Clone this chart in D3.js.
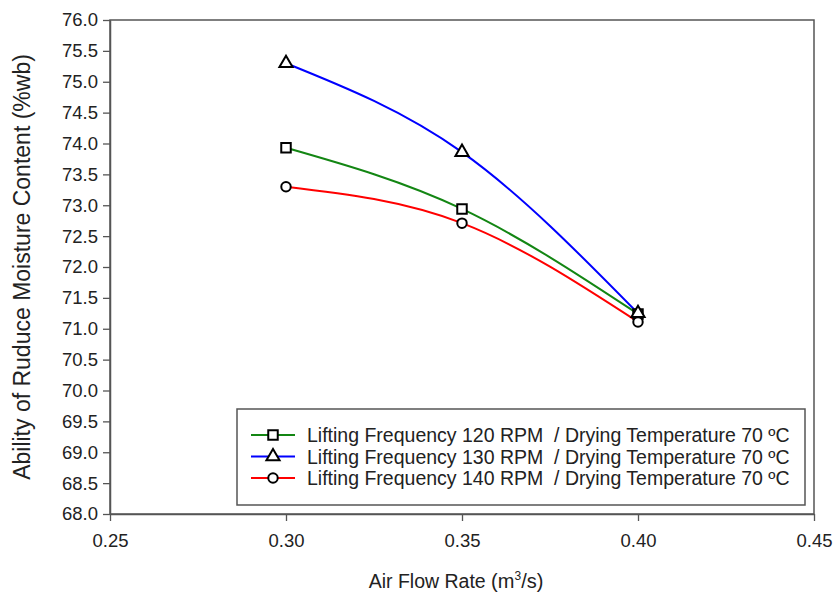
<!DOCTYPE html>
<html>
<head>
<meta charset="utf-8">
<script src="https://cdn.jsdelivr.net/npm/d3@7"></script>
<style>
  body { margin: 0; background: #fff; }
  text { font-family: Arial, "Liberation Sans", sans-serif; fill: #222; }
</style>
</head>
<body>
<svg id="chart" width="836" height="595"></svg>
<script>
// air flow rate (m3/s)
let airFlow = [0.30, 0.35, 0.40];
let rpm120 = [73.93, 72.94, 71.24];
let rpm130 = [75.30, 73.86, 71.25];
let rpm140 = [73.30, 72.71, 71.11];
let seriesNames = [
  "Lifting Frequency 120 RPM  / Drying Temperature 70 ºC",
  "Lifting Frequency 130 RPM  / Drying Temperature 70 ºC",
  "Lifting Frequency 140 RPM  / Drying Temperature 70 ºC"
];
let xTicks = [0.25, 0.30, 0.35, 0.40, 0.45];
let yTicks = d3.range(68, 76.01, 0.5);

let series = [
  { name: seriesNames[0], values: rpm120, color: "#138613", symbol: d3.symbolSquare },
  { name: seriesNames[1], values: rpm130, color: "#0000ff", symbol: d3.symbolTriangle },
  { name: seriesNames[2], values: rpm140, color: "#ff0000", symbol: d3.symbolCircle }
];

let svg = d3.select("#chart");
let plotLeft = 110, plotRight = 814, plotTop = 20, plotBottom = 514;

let x = d3.scaleLinear().domain([0.25, 0.45]).range([plotLeft, plotRight]);
let y = d3.scaleLinear().domain([68, 76]).range([plotBottom, plotTop]);

// frame
svg.append("rect")
  .attr("x", plotLeft).attr("y", plotTop)
  .attr("width", plotRight - plotLeft).attr("height", plotBottom - plotTop)
  .style("fill", "none").style("stroke", "#555").style("stroke-width", 1.5);

let xAxis = svg.append("g")
  .attr("transform", "translate(0," + plotBottom + ")")
  .call(d3.axisBottom(x).tickValues(xTicks).tickFormat(d3.format(".2f")).tickSize(7).tickSizeOuter(0));
let yAxis = svg.append("g")
  .attr("transform", "translate(" + plotLeft + ",0)")
  .call(d3.axisLeft(y).tickValues(yTicks).tickFormat(d3.format(".1f")).tickSize(7).tickSizeOuter(0));

[xAxis, yAxis].forEach(function(a) {
  a.select(".domain").style("stroke", "#555").style("stroke-width", 1.5);
  a.selectAll(".tick line").style("stroke", "#555").style("stroke-width", 1.3);
  a.selectAll(".tick text")
    .style("font-family", "Arial, 'Liberation Sans', sans-serif")
    .style("font-size", "18.5px").style("fill", "#222");
});
xAxis.selectAll(".tick text").attr("dy", "1.25em");
yAxis.selectAll(".tick text").attr("x", -12);

// axis titles
let xt = svg.append("text")
  .attr("x", 456).attr("y", 588)
  .attr("text-anchor", "middle")
  .style("font-size", "19.5px");
xt.append("tspan").text("Air Flow Rate ");
xt.append("tspan").style("font-size", "20px").text("(m");
xt.append("tspan").style("font-size", "12px").attr("dy", -8).text("3");
xt.append("tspan").style("font-size", "20px").attr("dy", 8).text("/s)");

svg.append("text")
  .attr("transform", "translate(30," + (plotTop + plotBottom) / 2 + ") rotate(-90)")
  .attr("text-anchor", "middle")
  .style("font-size", "23px")
  .text("Ability of Ruduce Moisture Content (%wb)");

// curves
let line = d3.line()
  .x(function(d, i) { return x(airFlow[i]); })
  .y(function(d) { return y(d); })
  .curve(d3.curveNatural);

series.forEach(function(s) {
  svg.append("path")
    .attr("d", line(s.values))
    .style("fill", "none")
    .style("stroke", s.color)
    .style("stroke-width", 2);
});

function drawMarker(g, s, px, py) {
  let size = s.symbol === d3.symbolCircle ? 70 : (s.symbol === d3.symbolTriangle ? 75 : 90);
  g.append("path")
    .attr("d", d3.symbol().type(s.symbol).size(size)())
    .attr("transform", "translate(" + px + "," + py + ")")
    .style("fill", "#fff")
    .style("stroke", "#000")
    .style("stroke-width", 2);
}

series.forEach(function(s) {
  s.values.forEach(function(v, i) {
    drawMarker(svg, s, x(airFlow[i]), y(v));
  });
});

// legend
let legend = svg.append("g");
legend.append("rect")
  .attr("x", 237).attr("y", 409)
  .attr("width", 568).attr("height", 96)
  .style("fill", "#fff").style("stroke", "#555").style("stroke-width", 1.5);

series.forEach(function(s, i) {
  let ly = 435 + i * 21.5;
  legend.append("line")
    .attr("x1", 251).attr("x2", 295).attr("y1", ly).attr("y2", ly)
    .style("stroke", s.color).style("stroke-width", 2);
  drawMarker(legend, s, 273, ly);
  legend.append("text")
    .attr("x", 307).attr("y", ly).attr("dy", "0.36em")
    .style("font-size", "19.5px")
    .style("white-space", "pre")
    .text(s.name);
});
</script>
</body>
</html>
